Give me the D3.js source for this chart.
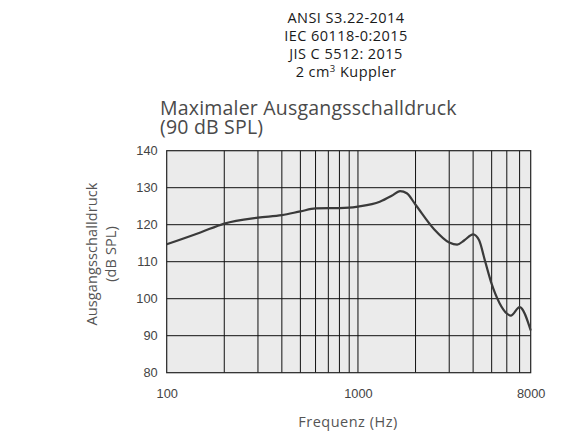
<!DOCTYPE html>
<html>
<head>
<meta charset="utf-8">
<script src="https://cdn.jsdelivr.net/npm/d3@7"></script>
<style>
  body { margin: 0; background: #fff; }
  svg { display: block; }
</style>
</head>
<body>
<svg width="566" height="433"></svg>
<script>
// header lines over the chart
var headerLines = ["ANSI S3.22-2014", "IEC 60118-0:2015", "JIS C 5512: 2015"];
var titleLines = ["Maximaler Ausgangsschalldruck", "(90 dB SPL)"];

// frequency response
var freqs = [100, 150, 200, 300, 400, 500, 600, 700, 800, 900, 1000, 1300, 1500, 1660, 1800, 2000, 2500, 3000, 3300, 3600, 4000, 4300, 4600, 5000, 5500, 6000, 6300, 7000, 8000];
var levels = [114.7, 117.9, 120.3, 121.9, 122.6, 123.6, 124.4, 124.5, 124.5, 124.6, 124.9, 126.2, 127.8, 129.1, 128.5, 125.4, 118.8, 115.2, 114.6, 115.8, 117.4, 115.8, 110.5, 104, 98.8, 96.0, 95.4, 97.7, 91.4];

var xTickVals = [100, 1000, 8000];
var xGridVals = [200, 300, 400, 500, 600, 700, 800, 900, 1000, 2000, 3000, 4000, 5000, 6000, 7000];
var yTickVals = [80, 90, 100, 110, 120, 130, 140];

var svg = d3.select("svg");
var pL = 166.7, pR = 530.7, pT = 150.7, pB = 372.7;

var x = d3.scaleLog().domain([100, 8000]).range([pL, pR]);
var y = d3.scaleLinear().domain([80, 140]).range([pB, pT]);

// header
var hdr = svg.append("g").attr("font-family", "'Open Sans', sans-serif").attr("font-size", 14.5)
  .attr("font-weight", 500).attr("letter-spacing", 0.45).attr("fill", "#1a1a1a").attr("text-anchor", "middle");
headerLines.forEach(function(t, i){
  hdr.append("text").attr("x", 346).attr("y", 22.5 + i*18).text(t);
});
var coupler = hdr.append("text").attr("x", 346).attr("y", 76.5);
coupler.append("tspan").text("2 cm");
coupler.append("tspan").attr("font-size", 9.5).attr("dy", -5).text("3");
coupler.append("tspan").attr("dy", 5).text(" Kuppler");

// title
var ttl = svg.append("g").attr("font-family", "'Open Sans', sans-serif").attr("font-size", 19.5)
  .attr("letter-spacing", 0.2).attr("fill", "#4a4a4a");
titleLines.forEach(function(t, i){
  ttl.append("text").attr("x", 160).attr("y", 114.5 + i*19.5).text(t);
});

// plot background
svg.append("rect").attr("x", pL).attr("y", pT).attr("width", pR-pL).attr("height", pB-pT)
  .attr("fill", "#ebebeb");

// grid
svg.append("g").selectAll("line").data(xGridVals).join("line")
  .attr("x1", d => x(d)).attr("x2", d => x(d)).attr("y1", pT).attr("y2", pB)
  .attr("stroke", "#111").attr("stroke-width", 1);
svg.append("g").selectAll("line").data(yTickVals.slice(1, -1)).join("line")
  .attr("x1", pL).attr("x2", pR).attr("y1", d => y(d)).attr("y2", d => y(d))
  .attr("stroke", "#111").attr("stroke-width", 1);
svg.append("rect").attr("x", pL).attr("y", pT).attr("width", pR-pL).attr("height", pB-pT)
  .attr("fill", "none").attr("stroke", "#222").attr("stroke-width", 1.2);

// curve
var line = d3.line().x((d, i) => x(freqs[i])).y(d => y(d)).curve(d3.curveMonotoneX);
svg.append("path").datum(levels).attr("d", line)
  .attr("fill", "none").attr("stroke", "#3a3a3a").attr("stroke-width", 2.2);

// axes labels
var yAxis = d3.axisLeft(y).tickValues(yTickVals).tickSize(0).tickPadding(9);
var gy = svg.append("g").attr("transform", "translate(" + pL + ",0)").call(yAxis);
gy.select(".domain").remove();
gy.selectAll("text").attr("font-family", "'Liberation Sans', Arial, sans-serif").attr("font-size", 12.8)
  .attr("font-weight", "normal").attr("fill", "#444");

var xAxis = d3.axisBottom(x).tickValues(xTickVals).tickFormat(d3.format("d")).tickSize(0).tickPadding(16);
var gx = svg.append("g").attr("transform", "translate(0," + pB + ")").call(xAxis);
gx.select(".domain").remove();
gx.selectAll("text").attr("font-family", "'Liberation Sans', Arial, sans-serif").attr("font-size", 12.8)
  .attr("font-weight", "normal").attr("fill", "#444");

svg.append("text").attr("x", 348).attr("y", 427).attr("text-anchor", "middle")
  .attr("font-family", "'Open Sans', sans-serif").attr("font-size", 14.5).attr("letter-spacing", 0.5)
  .attr("fill", "#555").text("Frequenz (Hz)");

var yt = svg.append("text").attr("transform", "translate(97,254) rotate(-90)").attr("text-anchor", "middle")
  .attr("font-family", "'Open Sans', sans-serif").attr("font-size", 14.5).attr("letter-spacing", 0.1)
  .attr("fill", "#555");
yt.append("tspan").attr("x", 0).attr("dy", 0).text("Ausgangsschalldruck");
yt.append("tspan").attr("x", 0).attr("dy", 19).text("(dB SPL)");
</script>
</body>
</html>
